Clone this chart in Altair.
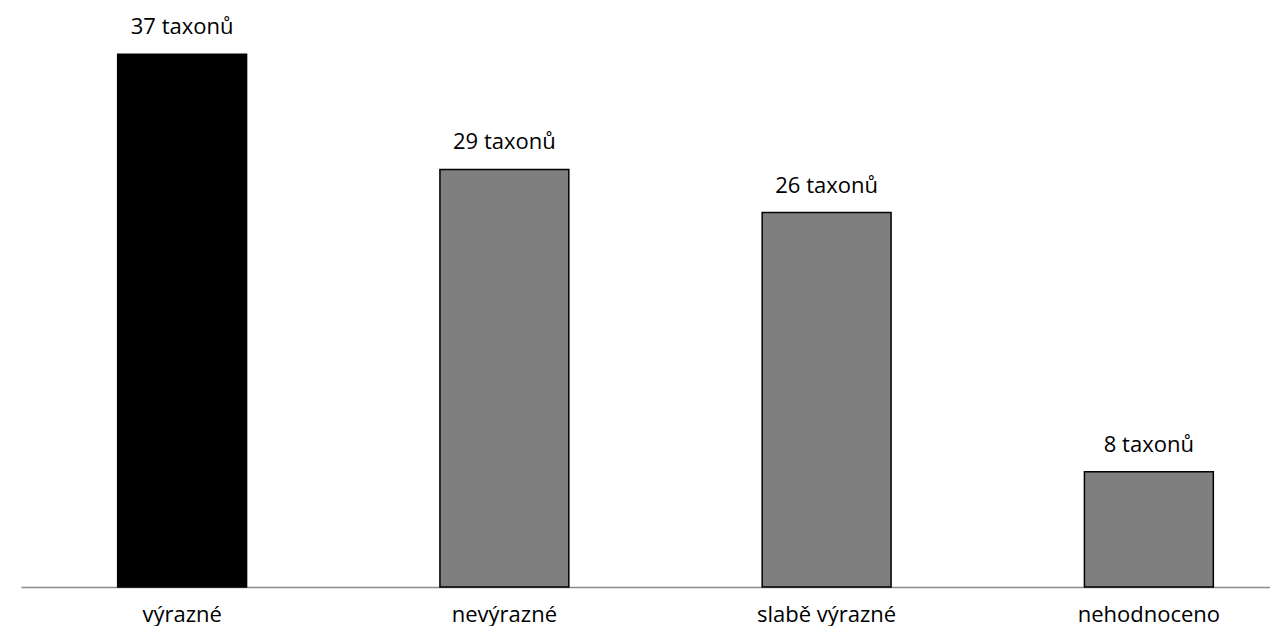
import altair as alt
import pandas as pd

categories = ["výrazné", "nevýrazné", "slabě výrazné", "nehodnoceno"]
values = [37, 29, 26, 8]
labels = ["37 taxonů", "29 taxonů", "26 taxonů", "8 taxonů"]
fills = ["#000000", "#7f7f7f", "#7f7f7f", "#7f7f7f"]

df = pd.DataFrame({"cat": categories, "val": values, "lab": labels, "fill": fills})

FONT = "Open Sans"

x = alt.X(
    "cat:N",
    sort=categories,
    title=None,
    scale=alt.Scale(range=[0, 1289], paddingInner=0.6, paddingOuter=0.3),
    axis=alt.Axis(
        domain=True,
        domainColor="#8c8c8c",
        domainWidth=1.5,
        ticks=False,
        tickSize=0,
        labelAngle=0,
        labelFont=FONT,
        labelFontSize=22,
        labelColor="#000000",
        labelBaseline="alphabetic",
        labelPadding=34,
        grid=False,
    ),
)
y = alt.Y(
    "val:Q",
    scale=alt.Scale(domain=[0, 40], nice=False),
    axis=None,
)

bars = alt.Chart(df).mark_bar(stroke="#000000", strokeWidth=1.5).encode(
    x=x,
    y=y,
    fill=alt.Fill("fill:N", scale=None),
)

text = alt.Chart(df).mark_text(
    font=FONT, fontSize=22, color="#000000", baseline="alphabetic", dy=-20
).encode(
    x=alt.X("cat:N", sort=categories),
    y=alt.Y("val:Q"),
    text="lab:N",
)

chart = (
    alt.layer(bars, text)
    .properties(
        width=1249,
        height=576,
        autosize=alt.AutoSizeParams(type="none"),
        padding={"left": 13, "top": 3, "right": 0, "bottom": 39},
        view=alt.ViewBackground(stroke="transparent", strokeOpacity=0, strokeWidth=0),
    )
    .configure_view(stroke="transparent", strokeOpacity=0, strokeWidth=0)
    .configure(background="#ffffff")
)

chart.save("out.html", embed_options={"renderer": "svg", "actions": False})
